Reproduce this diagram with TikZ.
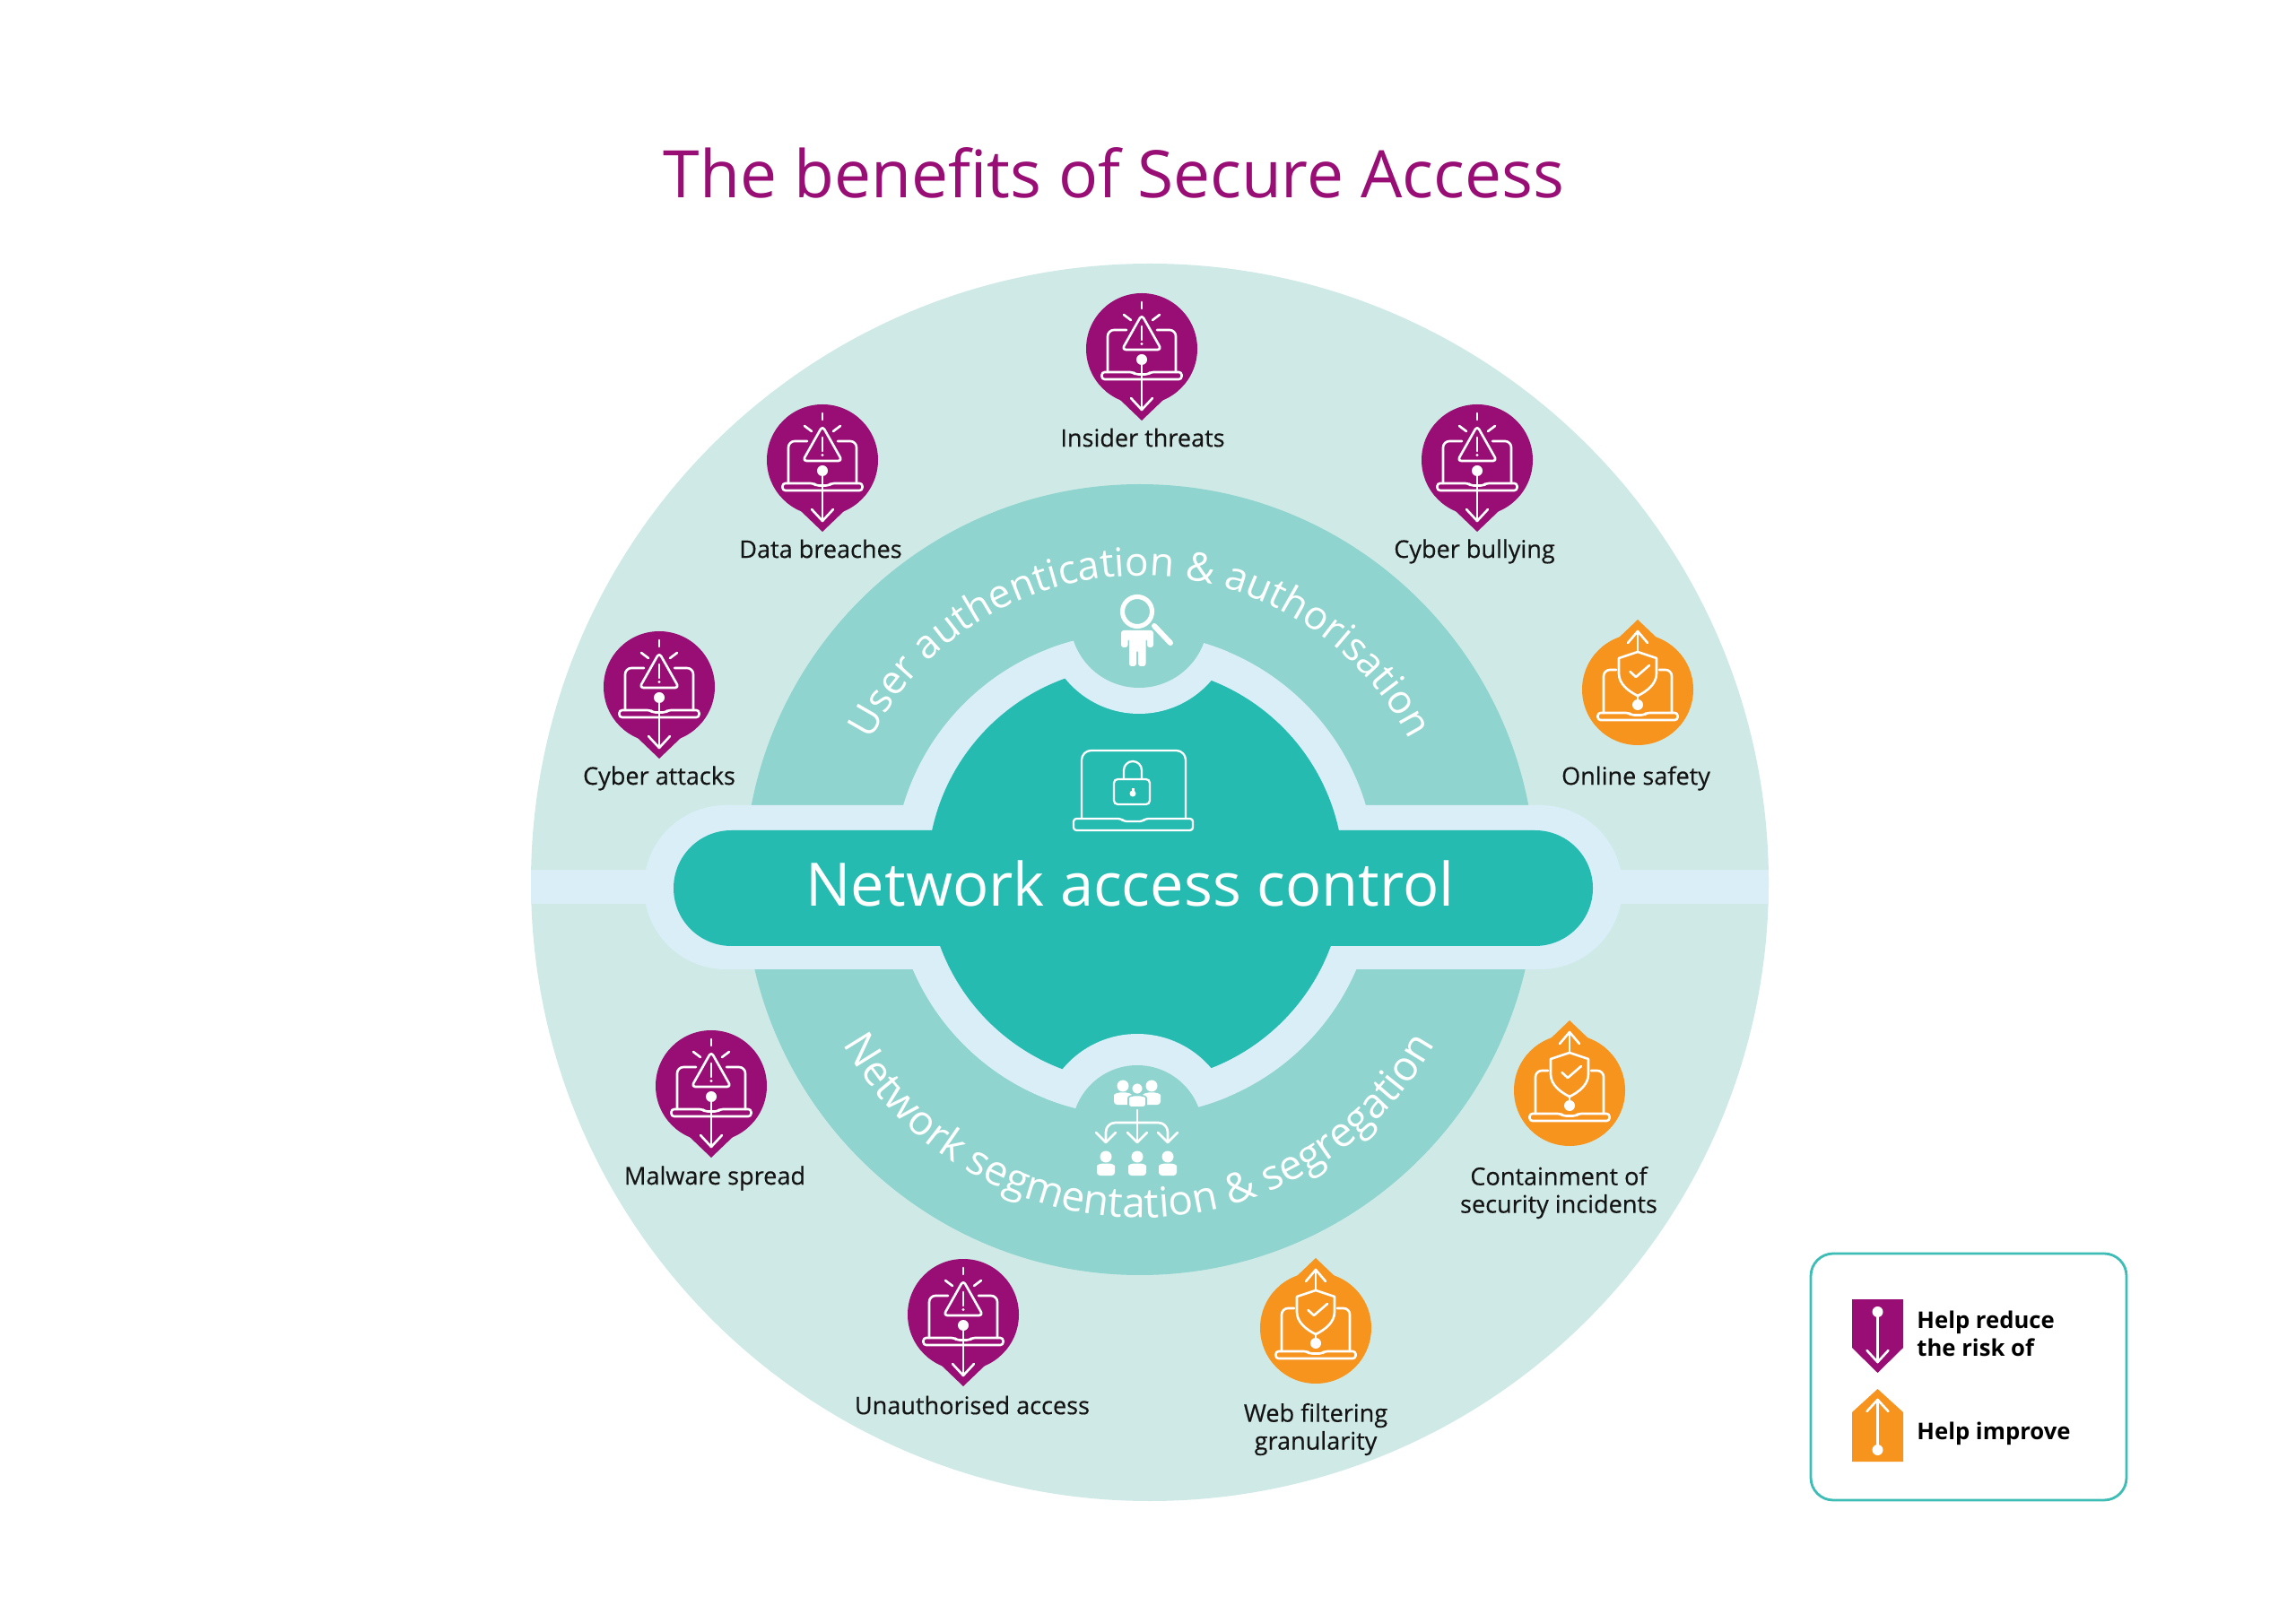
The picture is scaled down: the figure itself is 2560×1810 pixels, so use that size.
\documentclass[tikz,border=0pt]{standalone}
\usepackage{fontspec}
\setmainfont{Open Sans}
\newfontfamily\labelfont[FakeBold=0.4]{Open Sans}
\usetikzlibrary{decorations.text}
\definecolor{paleteal}{HTML}{CFEAE6}
\definecolor{midteal}{HTML}{8FD4CE}
\definecolor{mainteal}{HTML}{25BBB1}
\definecolor{lightblue}{HTML}{DAEEF7}
\definecolor{riskpurple}{HTML}{980E75}
\definecolor{improveorange}{HTML}{F7941E}
\definecolor{legendline}{HTML}{3DBDB5}
\newcommand{\uppercurvefont}{\fontsize{12.6}{15}\selectfont}
\newcommand{\lowercurvefont}{\fontsize{13.1}{15}\selectfont}

\tikzset{
  iconline/.style={draw=white, line width=0.75pt, line cap=round, line join=round},
  pinlabel/.style={font=\fontsize{7.7}{8.8}\labelfont, align=center, text=black!92},
  legendtext/.style={font=\fontsize{7.3}{8.8}\bfseries, align=left, anchor=west, text=black},
  pics/laptopicon/.style={code={
    \draw[iconline, rounded corners=0.9pt] (-44.5,26) -- (-44.5,34) -- (44.5,34) -- (44.5,26) -- (10,26) -- (7,28.5) -- (-7,28.5) -- (-10,26) -- cycle;
  }},
  pics/riskpin/.style={code={
    \fill[riskpurple] (0,0) circle[radius=62];
    \fill[riskpurple] (-24,57) -- (0,80) -- (24,57) -- cycle;
    \pic {laptopicon};
    \draw[iconline, rounded corners=2pt] (-17,-21) -- (-38,-21) -- (-38,26);
    \draw[iconline, rounded corners=2pt] (17,-21) -- (38,-21) -- (38,26);
    \draw[iconline, rounded corners=1.2pt] (0,-38) -- (-22,1) -- (22,1) -- cycle;
    \draw[iconline] (0,-25) -- (0,-10);
    \fill[white] (0,-5.5) circle[radius=1.6];
    \draw[iconline] (0,-52) -- (0,-45);
    \draw[iconline] (-20,-38) -- (-12,-32);
    \draw[iconline] (20,-38) -- (12,-32);
    \fill[white] (0,12) circle[radius=6];
    \draw[iconline] (0,12) -- (0,68);
    \draw[iconline] (-12,55) -- (0,68) -- (12,55);
  }},
  pics/improvepin/.style={code={
    \fill[improveorange] (0,0) circle[radius=62];
    \fill[improveorange] (-22,-57) -- (0,-78) -- (22,-57) -- cycle;
    \pic {laptopicon};
    \draw[iconline, rounded corners=2pt] (-24,-22) -- (-38,-22) -- (-38,26);
    \draw[iconline, rounded corners=2pt] (24,-22) -- (38,-22) -- (38,26);
    \draw[iconline] (0,-42) -- (21,-35) -- (21,-18) .. controls (21,-6) and (10,2) .. (0,7) .. controls (-10,2) and (-21,-6) .. (-21,-18) -- (-21,-35) -- cycle;
    \draw[iconline] (-8.5,-20) -- (-2,-14) -- (13,-27);
    \fill[white] (0,17) circle[radius=6];
    \draw[iconline] (0,7) -- (0,17);
    \draw[iconline] (0,-42) -- (0,-65);
    \draw[iconline] (-11,-52) -- (0,-65) -- (11,-52);
  }},
  pics/personicon/.style={code={
    \path[pic actions] (0,0) circle[radius=6.5];
    \path[pic actions, rounded corners=1pt] (-10,21) -- (-10,14) .. controls (-10,9) and (-6,7.5) .. (0,7.5) .. controls (6,7.5) and (10,9) .. (10,14) -- (10,21) -- cycle;
  }},
}

\begin{document}
\begin{tikzpicture}[x=0.01cm, y=-0.01cm]
  \useasboundingbox (0,0) rectangle (2560,1810);
  \node (titlelabel) at (1242,193) [text=riskpurple, font=\fontsize{20.8}{25}\selectfont] {The benefits of Secure Access};

  \fill[paleteal] (1282,984) circle[radius=690];
  \begin{scope}
    \clip (1282,984) circle[radius=690];
    \fill[lightblue] (500,970) rectangle (2060,1008);
  \end{scope}
  \fill[midteal] (1271,981) circle[radius=441];
  \fill[lightblue] (1265,975) circle[radius=269];
  \fill[lightblue, rounded corners=91.5*0.01cm] (718,898) rectangle (1809,1081);
  \fill[mainteal] (1266,975) circle[radius=232];
  \begin{scope}
    \clip (1265,975) circle[radius=269];
    \fill[lightblue] (1270,690) circle[radius=106];
    \fill[lightblue] (1268,1261) circle[radius=108];
  \end{scope}
  \fill[midteal] (1270,690) circle[radius=77];
  \fill[midteal] (1268,1261) circle[radius=73];
  \fill[mainteal, rounded corners=64.5*0.01cm] (751,926) rectangle (1776,1055);
  \node (centrelabel) at (1260,985) [text=white, font=\fontsize{19}{23}\selectfont] {Network access control};

  \path[decorate, decoration={text along path, text align=center, text color=white,
    text={|\uppercurvefont|User authentication {\&} authorisation}}]
    (1271,980) ++(-153:338) arc[start angle=-153, end angle=-27, radius=338];
  \path[decorate, decoration={text along path, text align=center, text color=white,
    text={|\lowercurvefont|Network segmentation {\&} segregation}}]
    (1270,980) ++(150:378) arc[start angle=150, end angle=30, radius=378];

  \draw[iconline, line width=0.65pt, rounded corners=3pt] (1206,913) -- (1206,837) -- (1322,837) -- (1322,913);
  \draw[iconline, line width=0.65pt, rounded corners=0.9pt] (1197,913) -- (1197,926) -- (1330,926) -- (1330,913) -- (1277,913) -- (1274,916) -- (1253,916) -- (1250,913) -- cycle;
  \draw[iconline, line width=0.65pt, rounded corners=1.2pt] (1242,869) rectangle (1282,897);
  \draw[iconline, line width=0.65pt] (1253,869) -- (1253,859) arc[start angle=180, end angle=360, radius=10] -- (1273,869);
  \fill[white] (1263,885) circle[radius=3.5];
  \fill[white] (1261.5,879) rectangle (1264.5,885);

  \draw[white, line width=1.45pt] (1268,682) circle[radius=16.5];
  \draw[white, line width=1.7pt, line cap=round] (1287,698) -- (1305,717);
  \fill[white, rounded corners=0.8pt] (1250,722) -- (1250,703) -- (1286,703) -- (1286,722) -- (1279,722) -- (1279,712) -- (1277.5,712) -- (1277.5,743) -- (1269,743) -- (1269,725) -- (1267,725) -- (1267,743) -- (1259,743) -- (1259,712) -- (1257.5,712) -- (1257.5,722) -- cycle;

  \pic at (1252,1211) [fill=white] {personicon};
  \pic at (1284,1211) [fill=white] {personicon};
  \pic at (1268,1214) [fill=white, draw=midteal, line width=0.5pt] {personicon};
  \draw[iconline] (1268,1238) -- (1268,1274);
  \draw[iconline, rounded corners=3pt] (1233,1274) -- (1233,1252) -- (1302,1252) -- (1302,1274);
  \draw[iconline] (1222,1263) -- (1233,1274) -- (1244,1263);
  \draw[iconline] (1257,1263) -- (1268,1274) -- (1279,1263);
  \draw[iconline] (1291,1263) -- (1302,1274) -- (1313,1263);
  \pic at (1233,1290) [fill=white] {personicon};
  \pic at (1268,1290) [fill=white] {personicon};
  \pic at (1302,1290) [fill=white] {personicon};

  \pic (insiderpin) at (1273,389) {riskpin};
  \pic (breachpin) at (917,513) {riskpin};
  \pic (bullyingpin) at (1647,513) {riskpin};
  \pic (attackpin) at (735,766) {riskpin};
  \pic (malwarepin) at (793,1211) {riskpin};
  \pic (accesspin) at (1074,1466) {riskpin};
  \pic (safetypin) at (1826,769) {improvepin};
  \pic (incidentpin) at (1750,1216) {improvepin};
  \pic (filterpin) at (1467,1481) {improvepin};

  \node (insiderlabel) at (1274,488) [pinlabel] {Insider threats};
  \node (breachlabel) at (915,612) [pinlabel] {Data breaches};
  \node (bullyinglabel) at (1644,615) [pinlabel] {Cyber bullying};
  \node (attacklabel) at (735,868) [pinlabel] {Cyber attacks};
  \node (safetylabel) at (1824,868) [pinlabel] {Online safety};
  \node (malwarelabel) at (797,1314) [pinlabel] {Malware spread};
  \node (incidentlabel) at (1738,1330) [pinlabel] {Containment of\\security incidents};
  \node (accesslabel) at (1084,1567) [pinlabel] {Unauthorised access};
  \node (filterlabel) at (1467,1594) [pinlabel] {Web filtering\\granularity};

  \draw[legendline, line width=0.8pt, rounded corners=25*0.01cm] (2019,1398) rectangle (2371,1673);
  \fill[riskpurple] (2065,1449) -- (2122,1449) -- (2122,1503) -- (2093.5,1531) -- (2065,1503) -- cycle;
  \fill[white] (2093.5,1463) circle[radius=6];
  \draw[iconline] (2093.5,1463) -- (2093.5,1519);
  \draw[iconline] (2081.5,1506) -- (2093.5,1519) -- (2105.5,1506);
  \fill[improveorange] (2065,1630) -- (2122,1630) -- (2122,1575) -- (2093.5,1549) -- (2065,1575) -- cycle;
  \fill[white] (2093.5,1617) circle[radius=6];
  \draw[iconline] (2093.5,1617) -- (2093.5,1561);
  \draw[iconline] (2081.5,1574) -- (2093.5,1561) -- (2105.5,1574);
  \node (reducelabel) at (2125,1487) [legendtext] {Help reduce\\the risk of};
  \node (improvelabel) at (2125,1599) [legendtext] {Help improve};
\end{tikzpicture}
\end{document}
